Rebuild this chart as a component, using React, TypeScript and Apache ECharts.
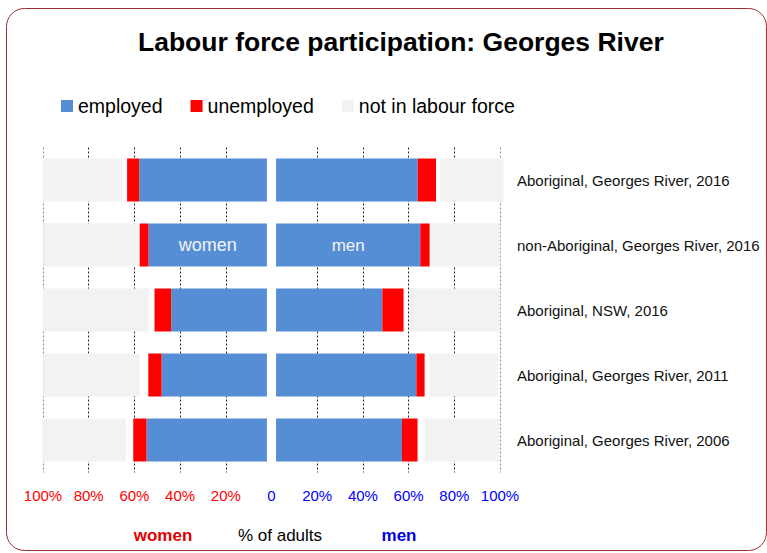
import React, { useEffect, useRef } from 'react';
import * as echarts from 'echarts';

const categories = [
  'Aboriginal, Georges River, 2016',
  'non-Aboriginal, Georges River, 2016',
  'Aboriginal, NSW, 2016',
  'Aboriginal, Georges River, 2011',
  'Aboriginal, Georges River, 2006',
];

// % of adults
const womenEmployed = [55.9, 51.8, 41.9, 46.1, 52.7];
const womenUnemployed = [5.3, 3.9, 7.3, 5.8, 5.8];
const womenNotStated = [2.3, 0.4, 2.5, 3.9, 3.2];
const womenNotInLabourForce = [34.6, 41.8, 46.4, 42.1, 36.6];

const menEmployed = [62.0, 63.1, 46.5, 61.4, 55.1];
const menUnemployed = [8.0, 4.1, 9.3, 3.6, 6.8];
const menNotStated = [1.8, 0.4, 2.5, 2.2, 3.2];
const menNotInLabourForce = [27.7, 30.5, 39.8, 29.8, 32.6];

// blank space either side of the centre line
const centreGap = [2, 2, 2, 2, 2];

const axisTicks = [-100, -80, -60, -40, -20, 0, 20, 40, 60, 80, 100];

const FONT = 'Liberation Sans, Arial, Helvetica, sans-serif';
const BLUE = '#558ed5';
const RED = '#ff0000';
const GREY = '#f2f2f2';

export default function App() {
  const ref = useRef<HTMLDivElement>(null);

  useEffect(() => {
    document.body.style.margin = '0';
    const chart = echarts.init(ref.current!, null, { renderer: 'svg' });

    const neg = (arr: number[]) => arr.map((v) => -v);

    const base = {
      type: 'bar',
      stack: 'all',
      barWidth: 43,
      silent: true,
    };

    const insideLabel = (text: string, idx: number, arr: number[], sign: number) =>
      arr.map((v, i) =>
        i === idx
          ? { value: sign * v, label: { show: true, formatter: text } }
          : sign * v
      );

    const labelStyle = {
      show: false,
      position: 'inside',
      color: '#f4f4f4',
      fontSize: 18,
      fontFamily: FONT,
    };

    const splitColors = axisTicks.map((t) =>
      t === 0 ? 'rgba(0,0,0,0)' : Math.abs(t) === 100 ? '#8a8a8a' : '#222222'
    );

    const option: any = {
      animation: false,
      title: {
        text: 'Labour force participation: Georges River',
        left: 138,
        top: 28,
        padding: 0,
        textStyle: { fontFamily: FONT, fontSize: 26.5, fontWeight: 'bold', color: '#000' },
      },
      legend: {
        data: ['employed', 'unemployed', 'not in labour force'],
        left: 61,
        top: 96,
        padding: 0,
        icon: 'rect',
        itemWidth: 12,
        itemHeight: 12,
        itemGap: 28,
        selectedMode: false,
        textStyle: { fontFamily: FONT, fontSize: 19.5, color: '#000' },
      },
      grid: {
        left: 43,
        right: 267,
        top: 147.5,
        bottom: 80.5,
        containLabel: false,
        outerBoundsMode: 'none',
      },
      xAxis: {
        type: 'value',
        min: -100,
        max: 100,
        interval: 20,
        axisLine: { show: false },
        axisTick: { show: false },
        axisLabel: {
          margin: 15,
          fontFamily: FONT,
          fontSize: 15,
          formatter: (v: number) => (v === 0 ? '0' : Math.abs(v) + '%'),
          color: (v: any) => (Number(v) < 0 ? '#ff0000' : '#0000ff'),
        },
        splitLine: {
          show: true,
          lineStyle: { color: splitColors, type: [2, 2], width: 1 },
        },
      },
      yAxis: {
        type: 'category',
        data: categories,
        inverse: true,
        position: 'right',
        axisLine: { show: false },
        axisTick: { show: false },
        axisLabel: {
          margin: 17,
          align: 'left',
          fontFamily: FONT,
          fontSize: 15,
          color: '#111',
        },
      },
      graphic: [
        {
          type: 'rect',
          silent: true,
          z: -10,
          shape: { x: 6.5, y: 8.5, width: 760, height: 542, r: 18 },
          style: { fill: 'none', stroke: '#9e2f2f', lineWidth: 1 },
        },
        {
          type: 'text',
          x: 163,
          y: 535,
          style: {
            text: 'women',
            fill: '#e00000',
            font: `bold 17px ${FONT}`,
            textAlign: 'center',
            textVerticalAlign: 'middle',
            align: 'center',
            verticalAlign: 'middle',
          },
        },
        {
          type: 'text',
          x: 280,
          y: 535,
          style: {
            text: '% of adults',
            fill: '#000',
            font: `17px ${FONT}`,
            textAlign: 'center',
            textVerticalAlign: 'middle',
            align: 'center',
            verticalAlign: 'middle',
          },
        },
        {
          type: 'text',
          x: 399,
          y: 535,
          style: {
            text: 'men',
            fill: '#0000e0',
            font: `bold 17px ${FONT}`,
            textAlign: 'center',
            textVerticalAlign: 'middle',
            align: 'center',
            verticalAlign: 'middle',
          },
        },
      ],
      series: [
        { ...base, name: 'gapW', data: neg(centreGap), itemStyle: { color: 'rgba(0,0,0,0)' } },
        {
          ...base,
          name: 'employed',
          data: insideLabel('women', 1, womenEmployed, -1),
          itemStyle: { color: BLUE },
          label: labelStyle,
        },
        { ...base, name: 'unemployed', data: neg(womenUnemployed), itemStyle: { color: RED } },
        { ...base, name: 'notStatedW', data: neg(womenNotStated), itemStyle: { color: 'rgba(0,0,0,0)' } },
        {
          ...base,
          name: 'not in labour force',
          data: neg(womenNotInLabourForce),
          itemStyle: { color: GREY },
          clip: false,
        },
        { ...base, name: 'gapM', data: centreGap, itemStyle: { color: 'rgba(0,0,0,0)' } },
        {
          ...base,
          name: 'employed',
          data: insideLabel('men', 1, menEmployed, 1),
          itemStyle: { color: BLUE },
          label: { ...labelStyle, fontSize: 17 },
        },
        { ...base, name: 'unemployed', data: menUnemployed, itemStyle: { color: RED } },
        { ...base, name: 'notStatedM', data: menNotStated, itemStyle: { color: 'rgba(0,0,0,0)' } },
        {
          ...base,
          name: 'not in labour force',
          data: menNotInLabourForce,
          itemStyle: { color: GREY },
          clip: false,
        },
      ],
    };

    chart.setOption(option);
    return () => chart.dispose();
  }, []);

  return <div ref={ref} style={{ width: 767, height: 553 }} />;
}
